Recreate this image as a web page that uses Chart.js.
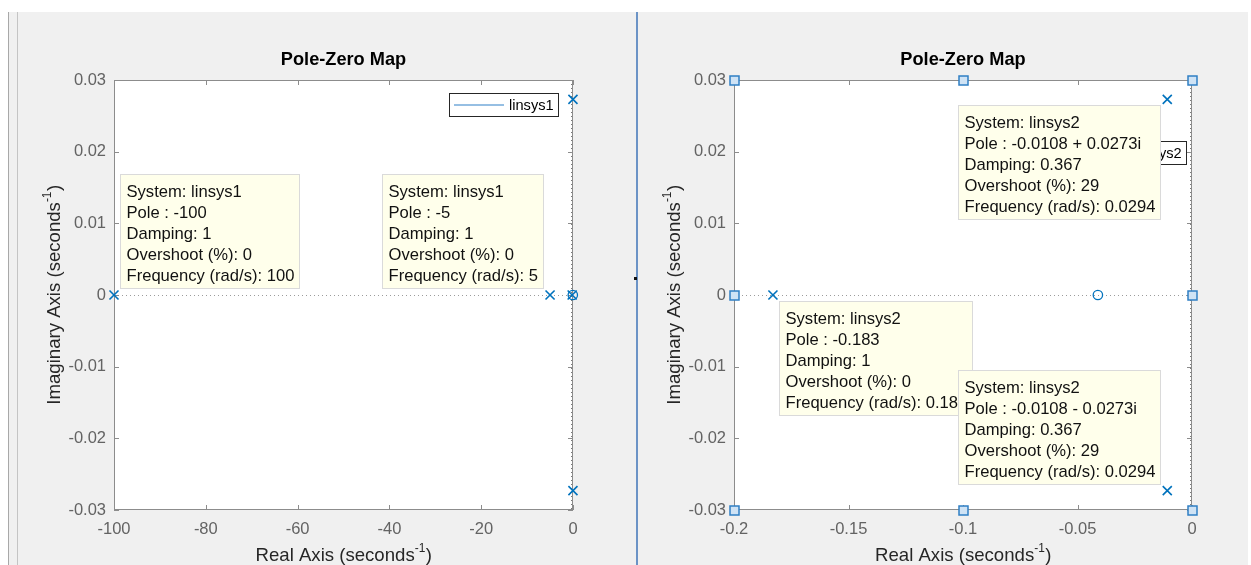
<!DOCTYPE html>
<html>
<head>
<meta charset="utf-8">
<title>Pole-Zero Map</title>
<script src="https://cdn.jsdelivr.net/npm/chart.js@4.4.0/dist/chart.umd.min.js"></script>
<style>
  html, body { margin: 0; padding: 0; background: #ffffff; width: 1251px; height: 565px; overflow: hidden; position: relative; }
  .blk { position: absolute; }
  canvas { position: absolute; top: 0; }
</style>
</head>
<body>
<div class="blk" style="left:9px;top:12px;width:1239px;height:553px;background:#f0f0f0"></div>
<div class="blk" style="left:8px;top:12px;width:1px;height:553px;background:#a8a8a8"></div>
<div class="blk" style="left:17px;top:12px;width:1px;height:553px;background:#c4c4c4"></div>
<div class="blk" style="left:636px;top:12px;width:2px;height:553px;background:#6b93c6"></div>
<div class="blk" style="left:634px;top:277px;width:3px;height:3px;background:#111"></div>
<canvas id="pz1" width="636" height="565" style="left:0"></canvas>
<canvas id="pz2" width="613" height="565" style="left:638px"></canvas>
<script>
// ---- system linsys1 ----
const sys1Name = 'linsys1';
const sys1PoleRe = [-100, -5];
const sys1PoleIm = [0, 0];
const sys1Damping = [1, 1];
const sys1Overshoot = [0, 0];
const sys1Freq = [100, 5];

// ---- system linsys2 ----
const sys2Name = 'linsys2';
const sys2PoleRe = [-0.183, -0.0108, -0.0108];
const sys2PoleIm = [0, 0.0273, -0.0273];
const sys2ZeroRe = [-0.0411];
const sys2ZeroIm = [0];
const sys2Damping = [1, 0.367, 0.367];
const sys2Overshoot = [0, 29, 29];
const sys2Freq = [0.183, 0.0294, 0.0294];

// ---- axis ticks ----
const imTicks = [-0.03, -0.02, -0.01, 0, 0.01, 0.02, 0.03];
const imTickLabels = ['-0.03', '-0.02', '-0.01', '0', '0.01', '0.02', '0.03'];
const reTicks1 = [-100, -80, -60, -40, -20, 0];
const reTickLabels1 = ['-100', '-80', '-60', '-40', '-20', '0'];
const reTicks2 = [-0.2, -0.15, -0.1, -0.05, 0];
const reTickLabels2 = ['-0.2', '-0.15', '-0.1', '-0.05', '0'];

const FONT = "'Liberation Sans', Arial, Helvetica, sans-serif";
const BLUE = '#0072bd';
const AXIS = '#8c8c8c';
const TICKTXT = '#636363';
const LABEL = '#262626';

const systems = {
  linsys1: { name: sys1Name, re: sys1PoleRe, im: sys1PoleIm, damping: sys1Damping, overshoot: sys1Overshoot, freq: sys1Freq },
  linsys2: { name: sys2Name, re: sys2PoleRe, im: sys2PoleIm, damping: sys2Damping, overshoot: sys2Overshoot, freq: sys2Freq }
};

function pts(re, im) { return re.map((r, i) => ({ x: r, y: im[i] })); }

function poleText(re, im) {
  if (im === 0) return 'Pole : ' + re;
  return 'Pole : ' + re + (im > 0 ? ' + ' : ' - ') + Math.abs(im) + 'i';
}

function poleSet(label, re, im) {
  return { label, data: pts(re, im), pointStyle: 'crossRot', pointRadius: 6.4, pointBorderWidth: 1.6,
           borderColor: BLUE, backgroundColor: BLUE, showLine: false, clip: false };
}
function zeroSet(label, re, im) {
  return { label, data: pts(re, im), pointStyle: 'circle', pointRadius: 4.7, pointBorderWidth: 1.3,
           borderColor: BLUE, backgroundColor: 'rgba(0,0,0,0)', showLine: false, clip: false };
}

// label with a "-1" exponent, centred at cx on the given baseline
function supLabel(ctx, main, sup, tail, cx, base, size) {
  const big = size + 'px ' + FONT, small = (size * 0.64) + 'px ' + FONT;
  ctx.font = big; const w1 = ctx.measureText(main).width; const w3 = ctx.measureText(tail).width;
  ctx.font = small; const w2 = ctx.measureText(sup).width;
  let x = cx - (w1 + w2 + w3) / 2;
  ctx.textAlign = 'left'; ctx.textBaseline = 'alphabetic';
  ctx.font = big; ctx.fillText(main, x, base); x += w1;
  ctx.font = small; ctx.fillText(sup, x, base - size * 0.46); x += w2 + 0.5;
  ctx.font = big; ctx.fillText(tail, x, base);
}

function drawTip(ctx, px, py, lines, dir) {
  ctx.font = '16.6px ' + FONT;
  const tw = Math.max(...lines.map(l => ctx.measureText(l).width));
  const lh = 21.1;
  const w = Math.round(tw + 12.5), h = Math.round(18 + lh * (lines.length - 1) + 13);
  const gap = 6;
  const x = Math.round(dir.includes('e') ? px + gap : px - gap - w);
  const y = Math.round(dir.includes('n') ? py - gap - h : py + gap);
  ctx.fillStyle = '#ffffeb';
  ctx.fillRect(x, y, w, h);
  ctx.strokeStyle = '#dadada'; ctx.lineWidth = 1;
  ctx.strokeRect(x + 0.5, y + 0.5, w - 1, h - 1);
  ctx.fillStyle = '#111';
  ctx.textAlign = 'left'; ctx.textBaseline = 'middle';
  lines.forEach((l, i) => ctx.fillText(l, x + 6.5, y + 18 + i * lh));
}

function drawLegend(ctx, area, label, rightOff, topOff) {
  ctx.font = '14.6px ' + FONT;
  const tw = ctx.measureText(label).width;
  const w = Math.round(60 + tw + 5), h = 24;
  const x = Math.round(area.right - rightOff - w), y = Math.round(area.top + topOff);
  ctx.fillStyle = '#fff'; ctx.fillRect(x, y, w, h);
  ctx.strokeStyle = '#262626'; ctx.lineWidth = 1; ctx.setLineDash([]);
  ctx.strokeRect(x + 0.5, y + 0.5, w - 1, h - 1);
  ctx.strokeStyle = '#2f80c8'; ctx.lineWidth = 1.2;
  ctx.beginPath(); ctx.moveTo(x + 5, y + 12); ctx.lineTo(x + 55, y + 12); ctx.stroke();
  ctx.fillStyle = '#000'; ctx.textAlign = 'left'; ctx.textBaseline = 'middle';
  ctx.fillText(label, x + 60, y + 12.5);
}

function makeChart(id, cfg) {
  const decor = {
    id: 'pzDecor',
    beforeDraw(chart) {
      const { ctx, chartArea: a } = chart;
      ctx.save(); ctx.fillStyle = '#fff';
      ctx.fillRect(a.left, a.top, a.right - a.left, a.bottom - a.top); ctx.restore();
    },
    beforeDatasetsDraw(chart) {
      const { ctx, chartArea: a, scales } = chart;
      const xs = scales.x, ys = scales.y;
      ctx.save();
      // dotted zero lines
      ctx.strokeStyle = '#9c9c9c'; ctx.lineWidth = 1; ctx.setLineDash([1, 3]);
      const y0 = Math.round(ys.getPixelForValue(0)) + 0.5;
      ctx.beginPath(); ctx.moveTo(a.left, y0); ctx.lineTo(a.right, y0); ctx.stroke();
      const x0 = Math.round(xs.getPixelForValue(0)) - 1.5;
      ctx.strokeStyle = '#7a7a7a';
      ctx.beginPath(); ctx.moveTo(x0, a.top); ctx.lineTo(x0, a.bottom); ctx.stroke();
      ctx.setLineDash([]);
      // axes box
      ctx.strokeStyle = AXIS; ctx.lineWidth = 1;
      ctx.strokeRect(a.left + 0.5, a.top + 0.5, a.right - a.left - 1, a.bottom - a.top - 1);
      // inward tick marks on all four sides
      const tl = 5;
      ctx.beginPath();
      cfg.xTicks.forEach(v => {
        const p = Math.round(xs.getPixelForValue(v)) + 0.5;
        ctx.moveTo(p, a.bottom); ctx.lineTo(p, a.bottom - tl);
        ctx.moveTo(p, a.top); ctx.lineTo(p, a.top + tl);
      });
      imTicks.forEach(v => {
        const p = Math.round(ys.getPixelForValue(v)) + 0.5;
        ctx.moveTo(a.left, p); ctx.lineTo(a.left + tl, p);
        ctx.moveTo(a.right, p); ctx.lineTo(a.right - tl, p);
      });
      ctx.stroke();
      ctx.restore();
    },
    afterDatasetsDraw(chart) {
      const { ctx, chartArea: a, scales } = chart;
      ctx.save();
      drawLegend(ctx, a, cfg.legendLabel, cfg.legendRight, cfg.legendTop);
      cfg.tips.forEach(t => {
        const s = systems[t.sys];
        const re = s.re[t.i], im = s.im[t.i];
        const lines = [
          'System: ' + s.name,
          poleText(re, im),
          'Damping: ' + s.damping[t.i],
          'Overshoot (%): ' + s.overshoot[t.i],
          'Frequency (rad/s): ' + s.freq[t.i]
        ];
        drawTip(ctx, scales.x.getPixelForValue(re), scales.y.getPixelForValue(im), lines, t.dir);
      });
      if (cfg.handles) {
        const xsH = [a.left, (a.left + a.right) / 2, a.right];
        const ysH = [a.top, (a.top + a.bottom) / 2, a.bottom];
        xsH.forEach((hx, i) => ysH.forEach((hy, j) => {
          if (i === 1 && j === 1) return;
          const cx = Math.round(hx), cy = Math.round(hy);
          ctx.fillStyle = '#cfe3f5'; ctx.fillRect(cx - 4, cy - 4, 9, 9);
          ctx.strokeStyle = '#2f7fc4'; ctx.lineWidth = 1.5; ctx.strokeRect(cx - 4, cy - 4, 9, 9);
        }));
      }
      ctx.restore();
    },
    afterDraw(chart) {
      const { ctx, chartArea: a } = chart;
      ctx.save();
      const cx = (a.left + a.right) / 2;
      ctx.fillStyle = '#000'; ctx.font = 'bold 18.2px ' + FONT;
      ctx.textAlign = 'center'; ctx.textBaseline = 'alphabetic';
      ctx.fillText('Pole-Zero Map', cx, a.top - 15);
      ctx.fillStyle = LABEL;
      supLabel(ctx, 'Real Axis (seconds', '-1', ')', cx, a.bottom + 51, 18.6);
      ctx.translate(a.left - 54, (a.top + a.bottom) / 2);
      ctx.rotate(-Math.PI / 2);
      supLabel(ctx, 'Imaginary Axis (seconds', '-1', ')', 0, 0, 18.6);
      ctx.restore();
    }
  };

  return new Chart(document.getElementById(id), {
    type: 'scatter',
    data: { datasets: cfg.datasets },
    options: {
      responsive: false, animation: false, devicePixelRatio: 1, events: [],
      layout: { padding: cfg.padding },
      plugins: { legend: { display: false }, tooltip: { enabled: false }, title: { display: false } },
      scales: {
        x: {
          type: 'linear', min: cfg.xMin, max: cfg.xMax,
          afterBuildTicks: s => { s.ticks = cfg.xTicks.map(v => ({ value: v })); },
          afterFit: s => { s.height = 30; s.paddingLeft = 0; s.paddingRight = 0; },
          grid: { display: false, drawTicks: false }, border: { display: false },
          ticks: { padding: 10, color: TICKTXT, autoSkip: false, maxRotation: 0,
                   font: { family: FONT, size: 16.5 }, callback: (v, i) => cfg.xLabels[i] }
        },
        y: {
          type: 'linear', min: -0.03, max: 0.03,
          afterBuildTicks: s => { s.ticks = imTicks.map(v => ({ value: v })); },
          afterFit: s => { s.width = 60; s.paddingTop = 0; s.paddingBottom = 0; },
          grid: { display: false, drawTicks: false }, border: { display: false },
          ticks: { padding: 8, color: TICKTXT, autoSkip: false,
                   font: { family: FONT, size: 16.5 }, callback: (v, i) => imTickLabels[i] }
        }
      }
    },
    plugins: [decor]
  });
}

makeChart('pz1', {
  datasets: [
    poleSet(sys1Name, sys1PoleRe, sys1PoleIm),
    poleSet(sys2Name, sys2PoleRe, sys2PoleIm),
    zeroSet(sys2Name, sys2ZeroRe, sys2ZeroIm)
  ],
  xMin: -100, xMax: 0, xTicks: reTicks1, xLabels: reTickLabels1,
  padding: { left: 54, right: 63, top: 80, bottom: 25 },
  legendLabel: sys1Name, legendRight: 14, legendTop: 13,
  tips: [ { sys: 'linsys1', i: 0, dir: 'ne' }, { sys: 'linsys1', i: 1, dir: 'nw' } ],
  handles: false
});

makeChart('pz2', {
  datasets: [
    poleSet(sys2Name, sys2PoleRe, sys2PoleIm),
    zeroSet(sys2Name, sys2ZeroRe, sys2ZeroIm)
  ],
  xMin: -0.2, xMax: 0, xTicks: reTicks2, xLabels: reTickLabels2,
  padding: { left: 36, right: 59, top: 80, bottom: 25 },
  legendLabel: sys2Name, legendRight: 5, legendTop: 61,
  tips: [ { sys: 'linsys2', i: 0, dir: 'se' }, { sys: 'linsys2', i: 1, dir: 'sw' }, { sys: 'linsys2', i: 2, dir: 'nw' } ],
  handles: true
});
</script>
</body>
</html>
